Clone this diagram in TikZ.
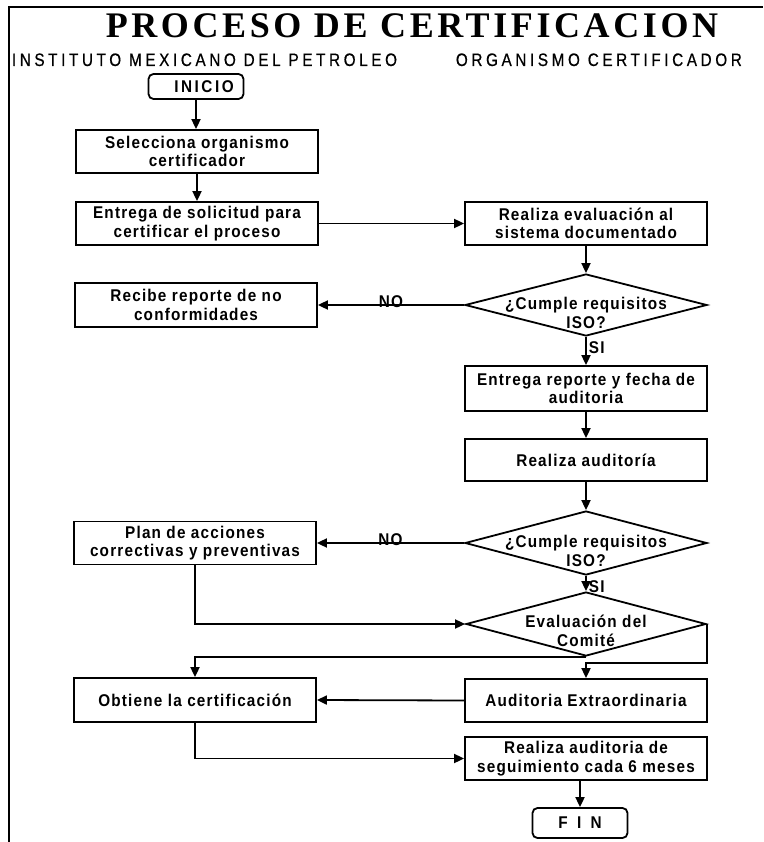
\documentclass[tikz,border=0pt]{standalone}
\usepackage{fontspec}
\usetikzlibrary{arrows.meta,shapes.geometric,calc}

% Condensed, tracked sans for the box texts and headers; tracked serif for the title
\newfontfamily\boxfam[FakeStretch=0.9,LetterSpace=7]{Liberation Sans}
\newfontfamily\subfam[FakeStretch=0.85,LetterSpace=20,FakeBold=0.6]{Liberation Sans}
\newfontfamily\titlefam[LetterSpace=10]{Liberation Serif}

\begin{document}
\begin{tikzpicture}[x=1pt,y=-1pt,
  line width=1.8pt,
  boxtxt/.style={font=\boxfam\bfseries\fontsize{17}{18.5}\selectfont, align=center},
  stepbox/.style={boxtxt, draw, rectangle, minimum width=242pt, minimum height=43pt, inner sep=0pt},
  termbox/.style={boxtxt, draw, rounded corners=5pt, minimum width=95pt, inner sep=0pt},
  decision/.style={draw, diamond, inner sep=0pt, minimum width=242pt, minimum height=64pt},
  flow/.style={-{Triangle[length=10pt,width=9pt]}},
  lbl/.style={boxtxt, inner sep=0pt},
  title/.style={font=\titlefam\bfseries\fontsize{36}{40}\selectfont, inner sep=0pt},
  header/.style={font=\subfam\fontsize{18}{20}\selectfont, inner sep=0pt},
  frame/.style={line width=1.5pt},
]
% page and frame
\fill[white] (0,0) rectangle (763,842);
\useasboundingbox (0,0) rectangle (763,842);
\draw[frame] (9,842) -- (9,7) -- (763,7);

% headings
\node[title, anchor=base] (ttl) at (412,38) {PROCESO DE CERTIFICACION};
\node[header, anchor=base west] (imp) at (11,66) {INSTITUTO MEXICANO DEL PETROLEO};
\node[header, anchor=base west] (oc) at (455,66) {ORGANISMO CERTIFICADOR};

% left column
\node[termbox, minimum height=25pt] (inicio) at (196,86.5) {\hspace*{16pt}\addfontfeature{LetterSpace=15}INICIO};
\node[stepbox] (sel) at (197,151.5) {Selecciona organismo\\certificador};
\node[stepbox] (ent1) at (197,223.5) {Entrega de solicitud para\\certificar el proceso};
\node[stepbox, minimum height=44pt] (rec) at (196,305) {Recibe reporte de no\\conformidades};
\node[stepbox] (plan) at (195,543) {Plan de acciones\\correctivas y preventivas};
\node[stepbox, minimum height=44pt] (obt) at (195,700) {Obtiene la certificación};

% right column
\node[stepbox] (eval) at (586,223.5) {Realiza evaluación al\\sistema documentado};
\node[decision, minimum height=62pt] (d1) at (586,305) {};
\node[lbl] (d1t) at ([yshift=-8pt]d1.center) {¿Cumple requisitos\\ISO?};
\node[stepbox, minimum height=45pt] (rep) at (586,388.5) {Entrega reporte y fecha de\\auditoria};
\node[stepbox, minimum height=42pt] (aud) at (586,460) {Realiza auditoría};
\node[decision] (d2) at (586,543) {};
\node[lbl] (d2t) at ([yshift=-8pt]d2.center) {¿Cumple requisitos\\ISO?};
\node[decision, minimum width=240pt] (d3) at (586,624) {};
\node[lbl] (d3t) at ([yshift=-7pt]d3.center) {Evaluación del\\Comité};
\node[stepbox] (extra) at (586,700.5) {Auditoria Extraordinaria};
\node[stepbox] (seg) at (586,758.5) {Realiza auditoria de\\seguimiento cada 6 meses};
\node[termbox, minimum height=30pt] (fin) at (580,823) {\addfontfeature{LetterSpace=55}FIN};

% connectors
\draw[flow] (inicio.south) -- (inicio.south |- sel.north);
\draw[flow] (sel.south) -- (ent1.north);
\draw[flow] (ent1.east) -- (eval.west);
\draw[flow] (eval.south) -- (d1.north);
\draw[flow] (d1.west) -- (rec.east);
\draw[flow] (d1.south) -- (rep.north);
\draw[flow] (rep.south) -- (aud.north);
\draw[flow] (aud.south) -- (d2.north);
\draw[flow] (d2.west) -- (plan.east);
\draw[flow] (d2.south) -- (d3.north);
\draw[flow] (plan.south) |- (d3.west);
\draw[flow] (d3.south) -| (obt.north);
\draw[flow] (d3.east) -- ++(0,39) -| (extra.north);
\draw[flow] (extra.west) -- (obt.east);
\draw[flow] (obt.south) |- (seg.west);
\draw[flow] (seg.south -| fin.north) -- (fin.north);

% branch labels
\node[lbl, anchor=base] (no1) at ($(d1.west)!0.5!(rec.east)+(0,2)$) {NO};
\node[lbl, anchor=base] (no2) at ($(d2.west)!0.5!(plan.east)+(0,2)$) {NO};
\node[lbl, anchor=north west] (si1) at ([xshift=2pt,yshift=-4pt]d1.south) {SI};
\node[lbl, anchor=north west] (si2) at ([xshift=2pt,yshift=-4pt]d2.south) {SI};
\end{tikzpicture}
\end{document}
